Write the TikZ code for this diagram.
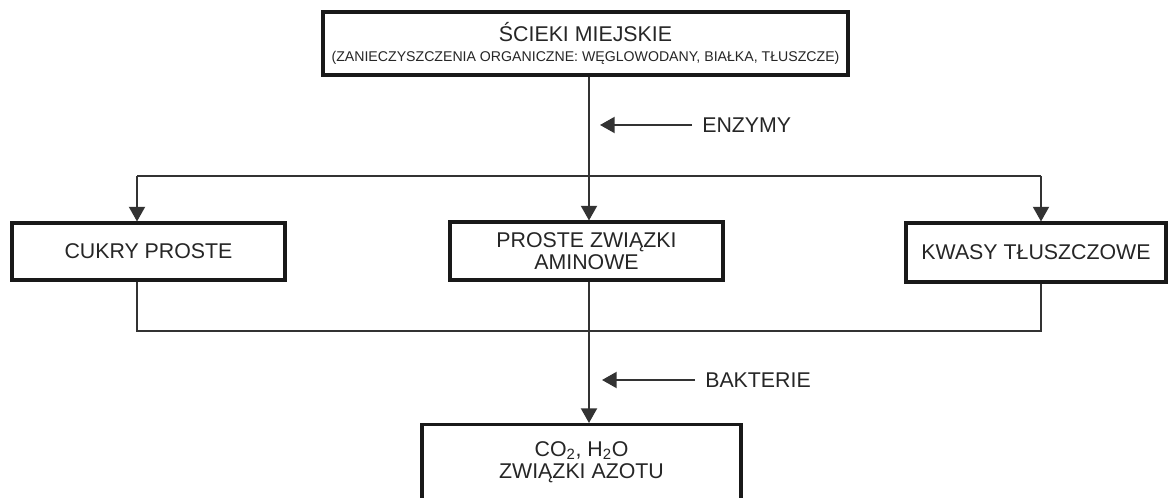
\documentclass[tikz,border=0pt]{standalone}
\usepackage{fontspec}
\setmainfont{Liberation Sans}
\usetikzlibrary{arrows.meta, positioning}

\begin{document}
\begin{tikzpicture}[x=0.75pt, y=-0.75pt,
  box/.style={draw=black!90, line width=2.3pt, fill=white, align=center, inner sep=0pt,
    font=\fontsize{16}{16.5}\selectfont, text=black!85},
  line/.style={draw=black!80, line width=1.5pt},
  arrow/.style={line, -{Triangle[width=12pt,length=11pt]}},
  lbl/.style={font=\fontsize{16}{16.5}\selectfont, text=black!85, inner sep=0pt}]
  \useasboundingbox (0,0) rectangle (1168,498);
  % top box
  \node[box, minimum width=393.75pt, minimum height=47.25pt] (top) at (585.5,43.5)
    {\'SCIEKI MIEJSKIE\\[-2pt]{\fontsize{10.6}{12}\selectfont (ZANIECZYSZCZENIA ORGANICZNE: W\k{E}GLOWODANY, BIA\L KA, T\L USZCZE)}};
  % middle row
  \node[box, minimum width=204.75pt, minimum height=42.75pt] (cukry) at (148.5,251.5) {CUKRY PROSTE};
  \node[box, minimum width=204.75pt, minimum height=43.5pt] (amines) at (586.5,251) {PROSTE ZWI\k{A}ZKI\\AMINOWE};
  \node[box, minimum width=195pt, minimum height=44.25pt] (kwasy) at (1036,252.5) {KWASY T\L USZCZOWE};
  % bottom box, runs past the lower edge
  \node[box, minimum width=239.25pt, anchor=north, inner ysep=12.5pt, text depth=50pt] (products) at (581.5,423)
    {CO\textsubscript{2}, H\textsubscript{2}O\\ZWI\k{A}ZKI AZOTU};
  % split and merge points
  \coordinate (split) at (589,176);
  \coordinate (cl) at (137,176);
  \coordinate (cr) at (1041,176);
  \coordinate (merge) at (589,331);
  \coordinate (ml) at (137,331);
  \coordinate (mr) at (1041,331);
  % connectors
  \draw[arrow] (top.south -| split) -- (amines.north -| split);
  \draw[line] (cl) -- (cr);
  \draw[arrow] (cl) -- (cl |- cukry.north);
  \draw[arrow] (cr) -- (cr |- kwasy.north);
  \draw[line] (cukry.south -| ml) -- (ml) -- (mr) -- (kwasy.south -| mr);
  \draw[arrow] (amines.south -| merge) -- (products.north -| merge);
  % side labels
  \node[lbl, anchor=west] (enz) at (702,125) {ENZYMY};
  \coordinate (enztip) at (600,125);
  \draw[arrow] ([xshift=-7.5pt]enz.west) -- (enztip);
  \node[lbl, anchor=west] (bakt) at (705,380) {BAKTERIE};
  \coordinate (bakttip) at (602,380);
  \draw[arrow] ([xshift=-7.5pt]bakt.west) -- (bakttip);
\end{tikzpicture}
\end{document}
